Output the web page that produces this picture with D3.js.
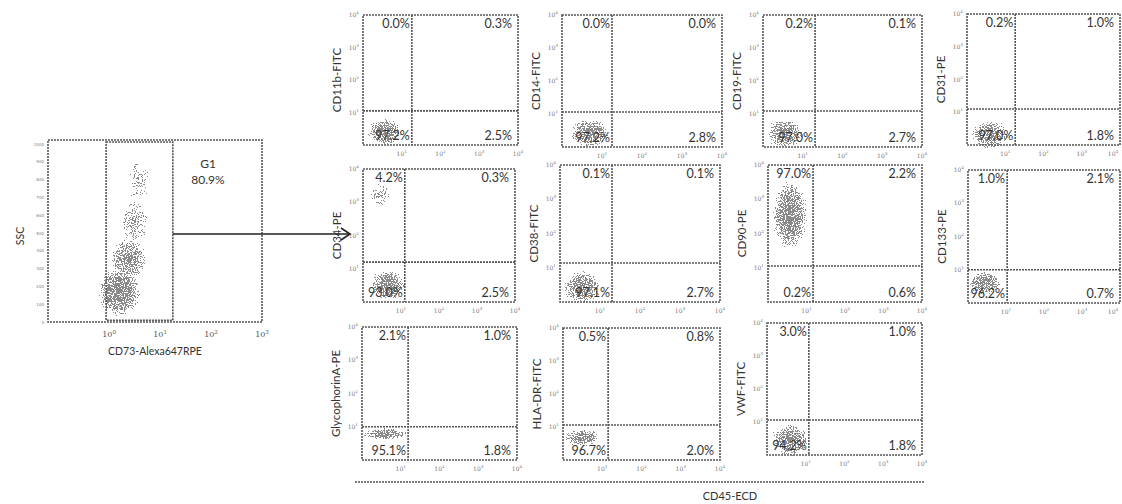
<!DOCTYPE html>
<html><head><meta charset="utf-8">
<script src="https://cdn.jsdelivr.net/npm/d3@7"></script>
<style>body{margin:0;background:#fff}svg{display:block}</style>
</head><body>
<svg id="c" width="1122" height="504"></svg>
<script>
// ---------------- DATA ----------------
const panelNames = ["CD11b-FITC","CD14-FITC","CD19-FITC","CD31-PE","CD34-PE","CD38-FITC","CD90-PE","CD133-PE","GlycophorinA-PE","HLA-DR-FITC","VWF-FITC"];
const pctTopLeft     = ["0.0%","0.0%","0.2%","0.2%","4.2%","0.1%","97.0%","1.0%","2.1%","0.5%","3.0%"];
const pctTopRight    = ["0.3%","0.0%","0.1%","1.0%","0.3%","0.1%","2.2%","2.1%","1.0%","0.8%","1.0%"];
const pctBottomLeft  = ["97.2%","97.2%","97.0%","97.0%","93.0%","97.1%","0.2%","96.2%","95.1%","96.7%","94.2%"];
const pctBottomRight = ["2.5%","2.8%","2.7%","1.8%","2.5%","2.7%","0.6%","0.7%","1.8%","2.0%","1.8%"];
// quadrant gates (log10 of fluorescence)
const gateX = [1.26,1.25,1.31,1.26,1.10,1.30,1.17,1.03,1.19,1.15,1.08];
const gateY = [1.05,1.06,1.09,1.10,1.20,1.14,1.05,1.00,1.00,1.06,1.06];
// cell populations: panel index, centre (log10 x, log10 y), spread (log10), density
const popPanel   = [0,1,2,3,4,4,5,6,7,8,9,10];
const popCX      = [0.57,0.70,0.55,0.60,0.66,0.45,0.57,0.57,0.44,0.60,0.50,0.60];
const popCY      = [0.40,0.42,0.42,0.30,0.50,3.20,0.42,2.54,0.60,0.78,0.68,0.45];
const popSX      = [0.50,0.55,0.55,0.55,0.50,0.35,0.55,0.50,0.50,0.65,0.55,0.55];
const popSY      = [0.45,0.50,0.50,0.50,0.50,0.50,0.55,1.10,0.40,0.20,0.30,0.55];
const popDensity = [0.92,0.88,0.88,0.88,0.92,0.7,0.88,0.92,0.88,0.92,0.88,0.88];
const logTicks = [1,2,3,4];
// gating plot (CD73 vs SSC)
const gateLabel = "G1", gatePct = "80.9%";
const g1Range = [-0.06, 1.25];           // log10 CD73
const ssclTicks = [0,100,200,300,400,500,600,700,800,900,1000];
const cd73Ticks = [0,1,2,3];
const cloudCX = [0.20,0.38,0.50,0.58];   // log10 CD73
const cloudCY = [170,350,560,800];       // SSC
const cloudSX = [0.45,0.42,0.35,0.30];
const cloudSY = [150,140,160,180];
const cloudDensity = [0.95,0.85,0.72,0.66];

// ---------------- LAYOUT ----------------
const boxes = [
 [363,15,518,145],[562,15,722,147],[763,15,922,147],[967,14,1120,145],
 [363,169,515,302],[560,165,720,302],[768,165,922,302],[968,170,1120,303],
 [362,327,517,460],[563,328,720,460],[767,323,922,455]];
const svg = d3.select("#c");
const defs = svg.append("defs");
const rg = defs.append("radialGradient").attr("id","rg");
rg.append("stop").attr("offset","0%").attr("stop-color","#fff").attr("stop-opacity",1);
rg.append("stop").attr("offset","60%").attr("stop-color","#fff").attr("stop-opacity",0.78);
rg.append("stop").attr("offset","100%").attr("stop-color","#fff").attr("stop-opacity",0.45);
const f = defs.append("filter").attr("id","speck").attr("x","-10%").attr("y","-10%")
  .attr("width","120%").attr("height","120%").attr("color-interpolation-filters","sRGB");
f.append("feTurbulence").attr("type","fractalNoise").attr("baseFrequency","0.9").attr("numOctaves",1).attr("seed",5).attr("result","t");
f.append("feColorMatrix").attr("in","t").attr("type","matrix")
  .attr("values","0 0 0 0 0  0 0 0 0 0  0 0 0 0 0  1 0 0 0 0").attr("result","na");
f.append("feComposite").attr("in","na").attr("in2","SourceGraphic").attr("operator","arithmetic")
  .attr("k1",1).attr("k2",0).attr("k3",0).attr("k4",0).attr("result","m");
const ct = f.append("feComponentTransfer").attr("in","m").attr("result","th");
ct.append("feFuncA").attr("type","discrete").attr("tableValues","0 0 0 0 0 0 0 1 1 1 1 1 1 1 1 1 1 1 1 1");
f.append("feFlood").attr("flood-color","#8a8a8a").attr("result","fl");
f.append("feComposite").attr("in","fl").attr("in2","th").attr("operator","in");

const lineStyle = s => s.attr("stroke","#555").attr("stroke-width",1.6).attr("stroke-dasharray","2 1").attr("fill","none");
const pctFont = "Lato, 'Open Sans', sans-serif";

function sup(sel, exp){
  sel.append("tspan").text("10");
  sel.append("tspan").attr("dy",-3).attr("font-size","0.7em").text(exp);
}

boxes.forEach((b,i)=>{
  const [x0,y0,x1,y1] = b;
  const x = d3.scaleLinear().domain([0,4]).range([x0,x1]);
  const y = d3.scaleLinear().domain([0,4]).range([y1,y0]);
  const g = svg.append("g");
  popPanel.forEach((p,k)=>{
    if(p!==i) return;
    g.append("ellipse").attr("cx",x(popCX[k])).attr("cy",y(popCY[k]))
      .attr("rx",x(popSX[k])-x(0)).attr("ry",y(0)-y(popSY[k]))
      .attr("fill","url(#rg)").attr("fill-opacity",popDensity[k]).attr("filter","url(#speck)");
  });
  g.append("rect").attr("x",x0).attr("y",y0).attr("width",x1-x0).attr("height",y1-y0).call(lineStyle);
  g.append("line").attr("x1",x(gateX[i])).attr("x2",x(gateX[i])).attr("y1",y0).attr("y2",y1).call(lineStyle);
  g.append("line").attr("x1",x0).attr("x2",x1).attr("y1",y(gateY[i])).attr("y2",y(gateY[i])).call(lineStyle);
  logTicks.forEach(t=>{
    g.append("text").attr("x",Math.min(x(t),1113)).attr("y",y1+11).attr("text-anchor","middle")
      .attr("font-size",6).attr("fill","#777").attr("font-family","DejaVu Serif").call(sup, t);
    g.append("text").attr("x",x0-4).attr("y",y(t)+2).attr("text-anchor","end")
      .attr("font-size",6).attr("fill","#777").attr("font-family","DejaVu Serif").call(sup, t);
  });
  const pt = (tx,ty,s)=>g.append("text").attr("x",tx).attr("y",ty).attr("text-anchor","end")
      .attr("font-family",pctFont).attr("font-size",12.5).attr("fill","#333").text(s);
  pt(x(gateX[i])-2, y0+13, pctTopLeft[i]);
  pt(x1-6, y0+13, pctTopRight[i]);
  pt(x(gateX[i])-2, y1-5, pctBottomLeft[i]);
  pt(x1-6, y1-5, pctBottomRight[i]);
  g.append("text").attr("transform",`translate(${x0-25},${(y0+y1)/2}) rotate(-90)`)
    .attr("text-anchor","middle").attr("dominant-baseline","middle")
    .attr("font-family",pctFont).attr("font-size",11.5).attr("fill","#333").text(panelNames[i]);
});

svg.append("line").attr("x1",355).attr("x2",925).attr("y1",482).attr("y2",482).call(lineStyle);
svg.append("text").attr("x",730).attr("y",500).attr("text-anchor","middle")
  .attr("font-family",pctFont).attr("font-size",11).attr("fill","#333").text("CD45-ECD");

// ---------------- gating plot ----------------
const gx = d3.scaleLinear().domain([-1.2,3]).range([48,262]);
const gy = d3.scaleLinear().domain([0,1023]).range([322,140]);
const gg = svg.append("g");
cloudCX.forEach((c,k)=>{
  gg.append("ellipse").attr("cx",gx(c)).attr("cy",gy(cloudCY[k]))
    .attr("rx",gx(cloudSX[k])-gx(0)).attr("ry",gy(0)-gy(cloudSY[k]))
    .attr("fill","url(#rg)").attr("fill-opacity",cloudDensity[k]).attr("filter","url(#speck)");
});
gg.append("rect").attr("x",48).attr("y",140).attr("width",214).attr("height",182).call(lineStyle);
gg.append("rect").attr("x",gx(g1Range[0])).attr("y",gy(1012)).attr("width",gx(g1Range[1])-gx(g1Range[0]))
  .attr("height",gy(10)-gy(1012)).call(lineStyle);
cd73Ticks.forEach(t=>{
  gg.append("text").attr("x",gx(t)).attr("y",337).attr("text-anchor","middle").attr("font-size",8)
    .attr("fill","#555").attr("font-family","DejaVu Serif").call(sup,t);
});
ssclTicks.forEach(t=>{
  gg.append("text").attr("x",44).attr("y",gy(t)+1.5).attr("text-anchor","end").attr("font-size",4)
    .attr("fill","#777").attr("font-family","DejaVu Sans").text(t);
});
gg.append("text").attr("x",208).attr("y",168).attr("text-anchor","middle").attr("font-family",pctFont)
  .attr("font-size",12).attr("fill","#333").text(gateLabel);
gg.append("text").attr("x",208).attr("y",184).attr("text-anchor","middle").attr("font-family",pctFont)
  .attr("font-size",12).attr("fill","#333").text(gatePct);
gg.append("text").attr("x",155).attr("y",355).attr("text-anchor","middle").attr("font-family",pctFont)
  .attr("font-size",10.5).attr("fill","#333").text("CD73-Alexa647RPE");
gg.append("text").attr("transform","translate(21,236) rotate(-90)").attr("text-anchor","middle")
  .attr("dominant-baseline","middle").attr("font-family",pctFont).attr("font-size",10.5).attr("fill","#333").text("SSC");
gg.append("line").attr("x1",gx(g1Range[1])).attr("x2",349).attr("y1",234).attr("y2",234)
  .attr("stroke","#222").attr("stroke-width",1.6);
gg.append("path").attr("d","M341,228 L350,234 L341,240").attr("fill","none").attr("stroke","#222").attr("stroke-width",1.6);
</script>
</body></html>
